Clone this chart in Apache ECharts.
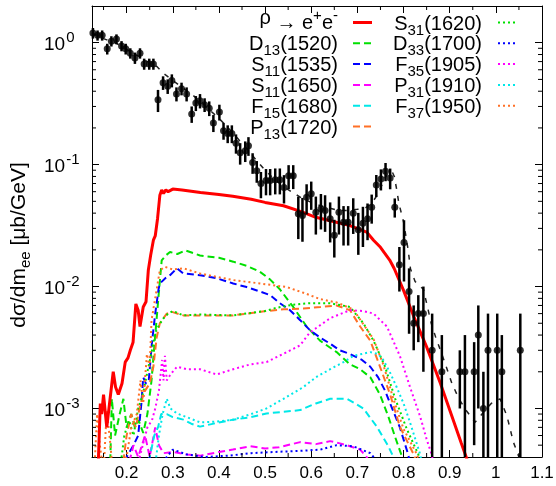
<!DOCTYPE html>
<html>
<head>
<meta charset="utf-8">
<script src="https://cdn.jsdelivr.net/npm/echarts@6/dist/echarts.min.js"></script>
<style>
  html, body { margin: 0; padding: 0; background: #fff; }
  #main { width: 556px; height: 486px; }
</style>
</head>
<body>
<div id="main"></div>
<script>
// 测量点 (x, y, 误差)
var pointX = [0.127, 0.137, 0.147, 0.158, 0.167, 0.178, 0.189, 0.198, 0.208, 0.218, 0.229, 0.238, 0.249, 0.258,
  0.268, 0.279, 0.289, 0.298, 0.308, 0.319, 0.33, 0.341, 0.35, 0.359, 0.369, 0.379, 0.388, 0.401, 0.41, 0.419,
  0.428, 0.437, 0.446, 0.457, 0.464, 0.473, 0.482, 0.491, 0.502, 0.511, 0.522, 0.532, 0.541, 0.551, 0.561,
  0.572, 0.581, 0.59, 0.6, 0.61, 0.621, 0.63, 0.641, 0.65, 0.66, 0.67, 0.68, 0.691, 0.702, 0.712, 0.722, 0.731,
  0.741, 0.751, 0.761, 0.771, 0.781, 0.791, 0.801, 0.812, 0.822, 0.832, 0.843, 0.862, 0.883, 0.922, 0.933,
  0.953, 0.962, 0.973, 0.983, 1.003, 1.013, 1.053];
var pointY = [1.2, 1.15, 1.15, 0.89, 1.03, 1.07, 0.94, 0.89, 0.82, 0.75, 0.82, 0.67, 0.67, 0.67,
  0.34, 0.47, 0.44, 0.49, 0.38, 0.42, 0.38, 0.26, 0.32, 0.334, 0.31, 0.29, 0.22, 0.27, 0.19, 0.18,
  0.18, 0.15, 0.125, 0.13, 0.143, 0.104, 0.089, 0.07, 0.074, 0.074, 0.075, 0.075, 0.065, 0.081, 0.081,
  0.0395, 0.0383, 0.054, 0.0576, 0.0407, 0.0434, 0.0421, 0.036, 0.0263, 0.0407, 0.0337, 0.0337, 0.04, 0.0292, 0.0331, 0.036, 0.0448,
  0.0682, 0.0764, 0.0881, 0.0778, 0.0448, 0.0151, 0.023, 0.0091, 0.005, 0.006, 0.006, 0.003, 0.002, 0.002, 0.002,
  0.002, 0.004, 0.001, 0.003, 0.003, 0.002, 0.003];
var pointErr = [0.12, 0.11, 0.11, 0.09, 0.1, 0.1, 0.09, 0.09, 0.08, 0.08, 0.08, 0.07, 0.07, 0.07,
  0.07, 0.06, 0.06, 0.06, 0.05, 0.05, 0.05, 0.04, 0.045, 0.045, 0.04, 0.04, 0.035, 0.04, 0.03, 0.03,
  0.03, 0.027, 0.025, 0.025, 0.025, 0.02, 0.018, 0.017, 0.018, 0.018, 0.018, 0.018, 0.017, 0.018, 0.018,
  0.015, 0.015, 0.015, 0.015, 0.014, 0.014, 0.014, 0.013, 0.009, 0.014, 0.012, 0.012, 0.013, 0.011, 0.012, 0.012, 0.012,
  0.014, 0.015, 0.015, 0.015, 0.008, 0.006, 0.012, 0.005, 0.002, 0.0025, 0.004, 0.003, 0.002, 0.001, 0.002,
  0.0015, 0.003, 0.001, 0.003, 0.003, 0.002, 0.003];

// 模型总和 (黑色虚线)
var sumModel = [[0.125, 1.2], [0.15, 1.08], [0.18, 0.98], [0.2, 0.88], [0.23, 0.76], [0.25, 0.68], [0.265, 0.64],
  [0.28, 0.56], [0.3, 0.49], [0.32, 0.43], [0.34, 0.38], [0.36, 0.33], [0.38, 0.28], [0.4, 0.24], [0.42, 0.2],
  [0.44, 0.165], [0.46, 0.135], [0.48, 0.11], [0.5, 0.09], [0.52, 0.076], [0.54, 0.066], [0.56, 0.059],
  [0.58, 0.053], [0.6, 0.049], [0.62, 0.046], [0.64, 0.044], [0.66, 0.042], [0.68, 0.042], [0.7, 0.043],
  [0.717, 0.044], [0.73, 0.048], [0.74, 0.054], [0.75, 0.064], [0.76, 0.078], [0.77, 0.088], [0.775, 0.088],
  [0.78, 0.08], [0.785, 0.063], [0.79, 0.048], [0.8, 0.034], [0.81, 0.02], [0.815, 0.014], [0.825, 0.011],
  [0.843, 0.0095], [0.86, 0.005], [0.87, 0.0038], [0.883, 0.0028], [0.905, 0.0016], [0.92, 0.0012],
  [0.937, 0.00095], [0.955, 0.00077], [0.97, 0.0009], [0.99, 0.0011], [1.009, 0.0012], [1.024, 0.00087],
  [1.038, 0.00053], [1.05, 0.0004], [1.055, 0.00035]];

// ρ → e+e- (红色实线)
var rhoCurve = [[0.138, 0.0003], [0.143, 0.0011], [0.146, 0.0009], [0.15, 0.0013], [0.157, 0.0007], [0.163, 0.0011],
  [0.171, 0.002], [0.176, 0.0015], [0.182, 0.0013], [0.19, 0.0016], [0.197, 0.0024], [0.203, 0.0026],
  [0.208, 0.003], [0.214, 0.0035], [0.22, 0.0072], [0.225, 0.0064], [0.229, 0.0047], [0.236, 0.0068],
  [0.242, 0.0075], [0.247, 0.0136], [0.252, 0.018], [0.258, 0.024], [0.262, 0.026], [0.267, 0.036],
  [0.272, 0.056], [0.276, 0.062], [0.28, 0.058], [0.285, 0.062], [0.29, 0.06], [0.3, 0.063], [0.32, 0.062],
  [0.36, 0.059], [0.4, 0.057], [0.43, 0.055], [0.47, 0.052], [0.5, 0.049], [0.54, 0.046], [0.58, 0.041],
  [0.61, 0.037], [0.65, 0.034], [0.684, 0.0316], [0.72, 0.028], [0.735, 0.024], [0.75, 0.021], [0.77, 0.0165],
  [0.78, 0.014], [0.8, 0.0093], [0.822, 0.0057], [0.85, 0.0032], [0.88, 0.0016], [0.905, 0.00086],
  [0.925, 0.00052], [0.94, 0.00036]];

// 共振态贡献
var d13Curve = [[0.164, 0.0003], [0.168, 0.0012], [0.175, 0.0006], [0.185, 0.0009], [0.193, 0.0012], [0.2, 0.0007],
  [0.21, 0.0009], [0.218, 0.0007], [0.226, 0.0008], [0.236, 0.00063], [0.245, 0.0009], [0.254, 0.0017],
  [0.261, 0.0036], [0.269, 0.0082], [0.276, 0.0164], [0.285, 0.018], [0.294, 0.0192], [0.31, 0.0185],
  [0.327, 0.0198], [0.359, 0.018], [0.4, 0.0172], [0.431, 0.016], [0.46, 0.0148], [0.489, 0.0132],
  [0.51, 0.0115], [0.532, 0.0095], [0.561, 0.0068], [0.59, 0.0047], [0.619, 0.0036], [0.655, 0.0029],
  [0.684, 0.0023], [0.706, 0.0021], [0.728, 0.0018], [0.749, 0.0013], [0.767, 0.00086], [0.782, 0.00058],
  [0.795, 0.00042], [0.8, 0.00035]];
var s11aCurve = [[0.19, 0.0003], [0.2, 0.0004], [0.215, 0.0005], [0.225, 0.0006], [0.232, 0.0011], [0.236, 0.0018],
  [0.242, 0.0016], [0.248, 0.0017], [0.255, 0.0035], [0.262, 0.006], [0.269, 0.0094], [0.272, 0.0106],
  [0.285, 0.0118], [0.294, 0.0124], [0.309, 0.0141], [0.323, 0.0128], [0.359, 0.0124], [0.395, 0.0117],
  [0.431, 0.0106], [0.46, 0.0099], [0.489, 0.0091], [0.511, 0.0085], [0.532, 0.0073], [0.554, 0.0064],
  [0.576, 0.0053], [0.597, 0.0044], [0.62, 0.0038], [0.641, 0.0034], [0.662, 0.003], [0.684, 0.0028],
  [0.71, 0.0025], [0.728, 0.0022], [0.745, 0.0018], [0.76, 0.0014], [0.771, 0.0011], [0.792, 0.0007],
  [0.81, 0.00042], [0.815, 0.00035]];
var s11bCurve = [[0.2, 0.0003], [0.215, 0.0005], [0.225, 0.0004], [0.24, 0.0006], [0.25, 0.0004], [0.262, 0.0007],
  [0.27, 0.0005], [0.28, 0.00043], [0.3, 0.00044], [0.33, 0.00042], [0.36, 0.00041], [0.4, 0.00044],
  [0.43, 0.00046], [0.468, 0.00049], [0.5, 0.00047], [0.53, 0.00048], [0.576, 0.00053], [0.61, 0.00051],
  [0.641, 0.00054], [0.66, 0.00052], [0.677, 0.0005], [0.706, 0.00046], [0.72, 0.0004], [0.73, 0.00035]];
var f15Curve = [[0.24, 0.0003], [0.25, 0.0004], [0.26, 0.0006], [0.268, 0.0007], [0.275, 0.0009], [0.287, 0.0009],
  [0.3, 0.00085], [0.323, 0.00081], [0.34, 0.00075], [0.359, 0.00071], [0.395, 0.00076], [0.431, 0.00081],
  [0.47, 0.00085], [0.503, 0.00091], [0.54, 0.00094], [0.576, 0.00097], [0.61, 0.0011], [0.641, 0.0012],
  [0.677, 0.0012], [0.695, 0.0011], [0.713, 0.001], [0.742, 0.00071], [0.767, 0.00049], [0.778, 0.0004],
  [0.785, 0.00035]];
var p13Curve = [[0.19, 0.0003], [0.2, 0.0006], [0.21, 0.0009], [0.22, 0.0007], [0.23, 0.0011], [0.24, 0.0014],
  [0.25, 0.0016], [0.258, 0.0022], [0.265, 0.0038], [0.272, 0.005], [0.287, 0.006], [0.298, 0.0062],
  [0.323, 0.0058], [0.359, 0.0058], [0.431, 0.0058], [0.503, 0.0063], [0.54, 0.0065], [0.583, 0.0066],
  [0.62, 0.0068], [0.655, 0.007], [0.684, 0.0064], [0.706, 0.0047], [0.728, 0.0036], [0.749, 0.0022],
  [0.771, 0.0013], [0.792, 0.00071], [0.822, 0.00042], [0.83, 0.00035]];
var s31Curve = [[0.185, 0.0003], [0.195, 0.0006], [0.205, 0.0008], [0.215, 0.0006], [0.225, 0.001], [0.235, 0.0013],
  [0.245, 0.002], [0.255, 0.003], [0.262, 0.0042], [0.27, 0.0048], [0.28, 0.0055], [0.29, 0.006], [0.3, 0.0063],
  [0.323, 0.0058], [0.36, 0.0059], [0.43, 0.0058], [0.5, 0.0063], [0.525, 0.0067], [0.56, 0.0071],
  [0.597, 0.0073], [0.641, 0.0073], [0.684, 0.0068], [0.713, 0.005], [0.735, 0.0036], [0.76, 0.0022],
  [0.782, 0.0012], [0.807, 0.00068], [0.832, 0.00042], [0.84, 0.00035]];
var d33Curve = [[0.24, 0.0003], [0.25, 0.0004], [0.26, 0.0003], [0.3, 0.00046], [0.33, 0.00042], [0.37, 0.0004],
  [0.42, 0.00041], [0.47, 0.00043], [0.52, 0.00044], [0.58, 0.00045], [0.62, 0.00046], [0.655, 0.0005],
  [0.691, 0.00049], [0.728, 0.00043], [0.735, 0.0004], [0.745, 0.00035]];
var f35Curve = [[0.22, 0.0003], [0.235, 0.0005], [0.245, 0.0007], [0.255, 0.0008], [0.262, 0.001], [0.27, 0.0014],
  [0.277, 0.0025], [0.28, 0.0017], [0.283, 0.0027], [0.287, 0.0017], [0.295, 0.0019], [0.309, 0.0022],
  [0.33, 0.0021], [0.359, 0.0021], [0.395, 0.0019], [0.431, 0.0021], [0.468, 0.0023], [0.503, 0.0024],
  [0.547, 0.0029], [0.576, 0.0033], [0.597, 0.0042], [0.641, 0.0055], [0.684, 0.0064], [0.713, 0.0063],
  [0.735, 0.006], [0.764, 0.0047], [0.792, 0.0027], [0.814, 0.0015], [0.836, 0.00086], [0.85, 0.00056],
  [0.861, 0.00042], [0.865, 0.00035]];
var p31Curve = [[0.26, 0.0003], [0.27, 0.0006], [0.278, 0.0009], [0.287, 0.0012], [0.295, 0.001], [0.309, 0.00091],
  [0.33, 0.00085], [0.359, 0.00077], [0.395, 0.00078], [0.431, 0.00081], [0.47, 0.0009], [0.503, 0.001],
  [0.54, 0.0012], [0.583, 0.0015], [0.61, 0.0018], [0.641, 0.0021], [0.67, 0.0024], [0.691, 0.0027],
  [0.728, 0.0029], [0.745, 0.0028], [0.756, 0.0025], [0.77, 0.002], [0.785, 0.0015], [0.8, 0.0011],
  [0.814, 0.00077], [0.836, 0.00042], [0.84, 0.00035]];
var f37Curve = [[0.13, 0.0003], [0.136, 0.0009], [0.142, 0.0005], [0.15, 0.0003], [0.157, 0.00097], [0.164, 0.00055],
  [0.17, 0.0003], [0.2, 0.0004], [0.21, 0.0007], [0.222, 0.0009], [0.23, 0.0017], [0.236, 0.0011],
  [0.244, 0.0028], [0.25, 0.0022], [0.254, 0.0053], [0.265, 0.0094], [0.272, 0.0136], [0.283, 0.0145],
  [0.3, 0.0138], [0.323, 0.0141], [0.359, 0.0128], [0.431, 0.0113], [0.489, 0.0106], [0.547, 0.0099],
  [0.583, 0.0089], [0.619, 0.0079], [0.655, 0.0074], [0.691, 0.0065], [0.713, 0.0049], [0.735, 0.0037],
  [0.756, 0.0023], [0.778, 0.0012], [0.8, 0.00068], [0.829, 0.00042], [0.835, 0.00035]];

// 坐标轴范围与副刻度
var xMin = 0.125, xMax = 1.1;
var yMin = 4e-4, yMax = 2;
var xMinorTicks = [0.15, 0.25, 0.35, 0.45, 0.55, 0.65, 0.75, 0.85, 0.95, 1.05];
var yMinorTicks = [5e-4, 6e-4, 7e-4, 8e-4, 9e-4, 2e-3, 3e-3, 4e-3, 5e-3, 6e-3, 7e-3, 8e-3, 9e-3,
  2e-2, 3e-2, 4e-2, 5e-2, 6e-2, 7e-2, 8e-2, 9e-2, 0.2, 0.3, 0.4, 0.5, 0.6, 0.7, 0.8, 0.9];

var FONT = 'Liberation Sans, Arial, Helvetica, sans-serif';
var DASH = [7, 4];
var DOT = [2, 3];

// 图例: [名称, 颜色, 线型, 列]
var legendItems = [
  ['{rho|ρ}{b| → e}{sup|+}{b|e}{sup|-}', '#ff0000', 'solid', 0],
  ['{b|D}{sub|13}{b|(1520)}', '#00e000', 'dashed', 0],
  ['{b|S}{sub|11}{b|(1535)}', '#0000ff', 'dashed', 0],
  ['{b|S}{sub|11}{b|(1650)}', '#ff00ff', 'dashed', 0],
  ['{b|F}{sub|15}{b|(1680)}', '#00e8e8', 'dashed', 0],
  ['{b|P}{sub|13}{b|(1720)}', '#ff7026', 'dashed', 0],
  ['{b|S}{sub|31}{b|(1620)}', '#00e000', 'dotted', 1],
  ['{b|D}{sub|33}{b|(1700)}', '#0000ff', 'dotted', 1],
  ['{b|F}{sub|35}{b|(1905)}', '#ff00ff', 'dotted', 1],
  ['{b|P}{sub|31}{b|(1910)}', '#00e8e8', 'dotted', 1],
  ['{b|F}{sub|37}{b|(1950)}', '#ff7026', 'dotted', 1]
];
var curveData = [rhoCurve, d13Curve, s11aCurve, s11bCurve, f15Curve, p13Curve,
  s31Curve, d33Curve, f35Curve, p31Curve, f37Curve];

var legendRich = {
  rho: { fontSize: 20, fontFamily: FONT, color: '#000', verticalAlign: 'top', padding: [0, 0, 0, 0] },
  b: { fontSize: 20, fontFamily: FONT, color: '#000', verticalAlign: 'top', padding: [5, 0, 0, 0] },
  sub: { fontSize: 15, fontFamily: FONT, color: '#000', verticalAlign: 'top', padding: [14, 0, 0, 0] },
  sup: { fontSize: 15, fontFamily: FONT, color: '#000', verticalAlign: 'top', padding: [0, 0, 0, 0] }
};
var titleRich = {
  b: { fontSize: 21, fontFamily: FONT, color: '#000', verticalAlign: 'top', padding: [0, 0, 0, 0] },
  sub: { fontSize: 15, fontFamily: FONT, color: '#000', verticalAlign: 'top', padding: [10, 0, 0, 0] }
};

var chart = echarts.init(document.getElementById('main'));

var series = [];
curveData.forEach(function (d, i) {
  var it = legendItems[i];
  series.push({
    type: 'line',
    name: 'c' + i,
    data: d,
    symbol: 'none',
    clip: true,
    silent: true,
    z: i === 0 ? 4 : 3,
    lineStyle: {
      color: it[1],
      width: i === 0 ? 3 : 2,
      type: it[2] === 'solid' ? 'solid' : (it[2] === 'dashed' ? DASH : DOT)
    }
  });
});
series.push({
  type: 'line', name: 'sum', data: sumModel, symbol: 'none', clip: true, silent: true, z: 5,
  lineStyle: { color: '#222', width: 1.5, type: [5, 7] }
});
// 误差棒
series.push({
  type: 'custom', name: 'errors', silent: true, z: 6,
  data: pointX.map(function (x, i) { return [x, pointY[i], pointErr[i]]; }),
  encode: { x: 0, y: 1 },
  renderItem: function (params, api) {
    var cs = params.coordSys;
    var x = api.value(0), y = api.value(1), e = api.value(2);
    var top = api.coord([x, y + e]);
    var bottom = y - e > yMin ? api.coord([x, y - e])[1] : cs.y + cs.height;
    return {
      type: 'line',
      shape: { x1: top[0], y1: Math.max(top[1], cs.y), x2: top[0], y2: Math.min(bottom, cs.y + cs.height) },
      style: { stroke: '#000', lineWidth: 2.5 }
    };
  }
});
series.push({
  type: 'scatter', name: 'data', silent: true, z: 7,
  data: pointX.map(function (x, i) { return [x, pointY[i]]; }),
  symbol: 'circle', symbolSize: 7,
  itemStyle: { color: '#000' }
});
// 副刻度 (左右 / 上下)
series.push({
  type: 'custom', name: 'yminor', silent: true, z: 8,
  data: yMinorTicks.map(function (v) { return [xMin, v]; }),
  encode: { x: 0, y: 1 },
  renderItem: function (params, api) {
    var cs = params.coordSys;
    var y = api.coord([xMin, api.value(1)])[1];
    return { type: 'group', children: [
      { type: 'line', shape: { x1: cs.x, y1: y, x2: cs.x + 4, y2: y }, style: { stroke: '#000', lineWidth: 1 } },
      { type: 'line', shape: { x1: cs.x + cs.width - 4, y1: y, x2: cs.x + cs.width, y2: y }, style: { stroke: '#000', lineWidth: 1 } }
    ] };
  }
});
series.push({
  type: 'custom', name: 'xminor', silent: true, z: 8,
  data: xMinorTicks.map(function (v) { return [v, yMax]; }),
  encode: { x: 0, y: 1 },
  renderItem: function (params, api) {
    var cs = params.coordSys;
    var x = api.coord([api.value(0), yMax])[0];
    return { type: 'group', children: [
      { type: 'line', shape: { x1: x, y1: cs.y + cs.height, x2: x, y2: cs.y + cs.height - 4 }, style: { stroke: '#000', lineWidth: 1 } },
      { type: 'line', shape: { x1: x, y1: cs.y, x2: x, y2: cs.y + 4 }, style: { stroke: '#000', lineWidth: 1 } }
    ] };
  }
});

// 图例 (手工绘制)
var graphics = [];
legendItems.forEach(function (it, i) {
  var col = it[3];
  var row = col === 0 ? i : i - 6;
  var yy = 22.5 + row * 20.8;
  var textRight = col === 0 ? 338 : 482;
  var lineX = col === 0 ? 353 : 498;
  graphics.push({
    type: 'text', x: textRight, y: i === 0 ? yy - 2 : yy + 1,
    style: { text: it[0], rich: legendRich, align: 'right', verticalAlign: 'middle' }
  });
  graphics.push({
    type: 'line', shape: { x1: lineX, y1: yy, x2: lineX + 19, y2: yy },
    style: { stroke: it[1], lineWidth: it[2] === 'solid' ? 3 : 2,
      lineDash: it[2] === 'solid' ? null : (it[2] === 'dashed' ? DASH : DOT) }
  });
});
// y 轴标题
graphics.push({
  type: 'text', x: 21, y: 245, rotation: Math.PI / 2,
  style: {
    text: '{b|dσ/dm}{sub|ee}{b| [μb/GeV]}',
    rich: titleRich, align: 'center', verticalAlign: 'middle'
  }
});

var axisLineStyle = { lineStyle: { color: '#000', width: 1 } };

var option = {
  animation: false,
  backgroundColor: '#fff',
  grid: { left: 92, top: 6, width: 450, height: 451, containLabel: false, outerBoundsMode: 'none' },
  xAxis: [{
    type: 'value', min: xMin, max: xMax, splitNumber: 10, position: 'bottom',
    axisLine: axisLineStyle, splitLine: { show: false },
    axisTick: { inside: true, length: 7, lineStyle: { color: '#000' } },
    axisLabel: {
      margin: 8, color: '#000', fontSize: 17, fontFamily: FONT,
      showMinLabel: true, showMaxLabel: true,
      formatter: function (v) {
        var t = Math.round(v * 10);
        if (Math.abs(v * 10 - t) > 1e-6) return '';
        return String(t / 10);
      }
    }
  }, {
    type: 'value', min: xMin, max: xMax, splitNumber: 10, position: 'top',
    axisLine: axisLineStyle, splitLine: { show: false },
    axisTick: { inside: true, length: 7, lineStyle: { color: '#000' } },
    axisLabel: { show: false }
  }],
  yAxis: [{
    type: 'log', logBase: 10, min: yMin, max: yMax, position: 'left',
    axisLine: { show: true, lineStyle: { color: '#000', width: 1 } }, splitLine: { show: false },
    axisTick: { inside: true, length: 7, lineStyle: { color: '#000' } },
    minorTick: { show: false },
    axisLabel: {
      margin: 48, align: 'left', color: '#000',
      formatter: function (v) {
        var l = Math.log(v) / Math.LN10;
        var e = Math.round(l);
        if (Math.abs(l - e) > 1e-6) return '';
        return '{b|10}{sup|' + e + '}';
      },
      rich: {
        b: { fontSize: 19, fontFamily: FONT, color: '#000', verticalAlign: 'bottom' },
        sup: { fontSize: 15, fontFamily: FONT, color: '#000', verticalAlign: 'bottom', padding: [0, 0, 9, 1] }
      }
    }
  }, {
    type: 'log', logBase: 10, min: yMin, max: yMax, position: 'right',
    axisLine: { show: true, lineStyle: { color: '#000', width: 1 } }, splitLine: { show: false },
    axisTick: { inside: true, length: 7, lineStyle: { color: '#000' } },
    axisLabel: { show: false }
  }],
  series: series,
  graphic: graphics
};

chart.setOption(option);
</script>
</body>
</html>
